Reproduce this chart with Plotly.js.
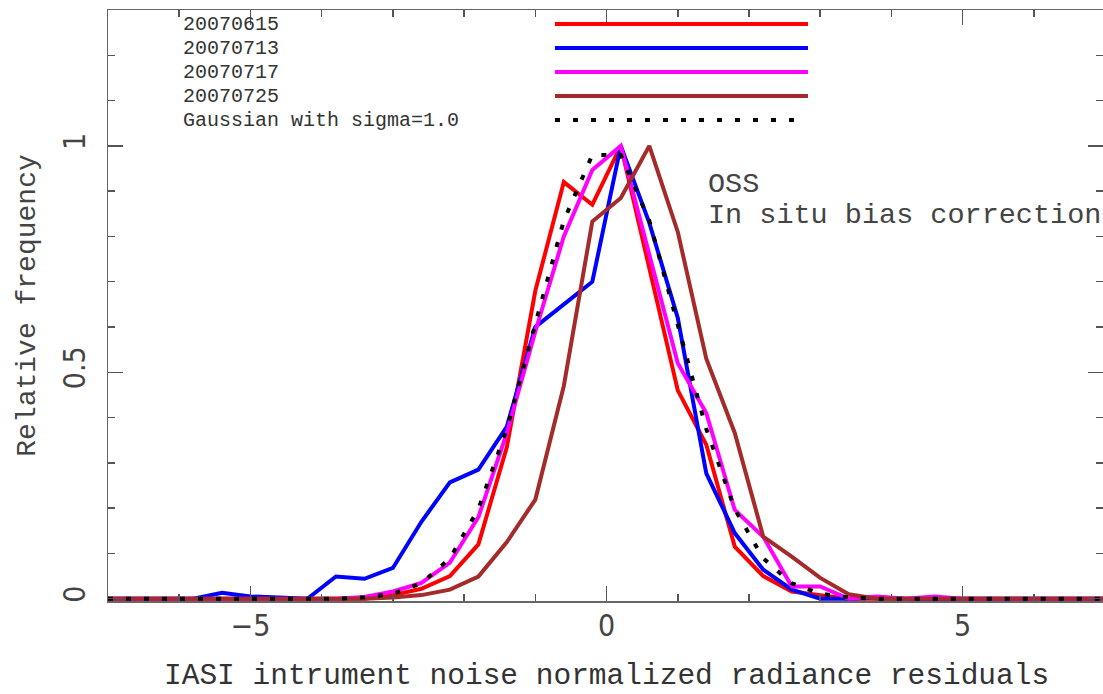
<!DOCTYPE html>
<html>
<head>
<meta charset="utf-8">
<script src="https://cdn.plot.ly/plotly-3.0.1.min.js"></script>
<style>html,body{margin:0;padding:0;background:#fff;}#chart{width:1103px;height:694px;}</style>
</head>
<body>
<div id="chart"></div>
<script>
// Bin centres (normalized residuals)
const xBins = [-7.0,-6.6,-6.2,-5.8,-5.4,-5.0,-4.6,-4.2,-3.8,-3.4,-3.0,-2.6,-2.2,-1.8,-1.4,-1.0,-0.6,-0.2,
               0.2,0.6,1.0,1.4,1.8,2.2,2.6,3.0,3.4,3.8,4.2,4.6,5.0,5.4,5.8,6.2,6.6,7.0];

const seriesNames = ["20070615","20070713","20070717","20070725","Gaussian with sigma=1.0"];

const y20070615 = [0,0,0,0,0,0,0,0,0,0,0.008,0.022,0.05,0.12,0.335,0.68,0.92,0.87,
                   1.0,0.73,0.46,0.34,0.115,0.05,0.016,0.008,0,0,0,0,0,0,0,0,0,0];
const y20070713 = [0,0,0,0,0.013,0.005,0.003,0,0.049,0.044,0.068,0.17,0.257,0.285,0.38,0.6,0.65,0.70,
                   1.0,0.83,0.62,0.277,0.145,0.064,0.02,0,0,0.003,0,0,0,0,0,0,0,0];
const y20070717 = [0,0,0,0,0,0,0,0,0,0.004,0.016,0.035,0.08,0.18,0.366,0.59,0.80,0.947,
                   1.0,0.76,0.52,0.41,0.196,0.137,0.027,0.027,0,0.005,0,0.005,0,0,0,0,0,0];
const y20070725 = [0,0,0,0,0,0,0,0,0,0,0.003,0.008,0.02,0.049,0.125,0.219,0.47,0.833,
                   0.885,1.0,0.81,0.53,0.366,0.137,0.093,0.046,0.01,0,0,0,0,0,0,0,0,0];
const yGauss    = [0,0,0,0,0,0,0,0,0,0.003,0.011,0.034,0.089,0.198,0.375,0.607,0.835,0.98,
                   0.98,0.835,0.607,0.375,0.198,0.089,0.034,0.011,0.003,0,0,0,0,0,0,0,0,0];

const seriesColors = ["#ff0000","#0000ff","#ff00ff","#a52a2a","#000000"];
const seriesY = [y20070615,y20070713,y20070717,y20070725,yGauss];

const annText1 = "OSS";
const annText2 = "In situ bias correction";
const xTitle = "IASI intrument noise normalized radiance residuals";
const yTitle = "Relative frequency";

const mono = "Liberation Mono, Courier New, monospace";
const narrow = "Liberation Sans Narrow, DejaVu Sans Condensed, Liberation Sans, sans-serif";

const traces = seriesY.map((ys,i)=>({
  x: xBins, y: ys, type: "scatter", mode: "lines", name: seriesNames[i],
  line: {color: seriesColors[i], width: 4, dash: i===4 ? "5px,13px" : "solid"},
  showlegend: false, hoverinfo: "skip"
}));

// plot-area geometry (pixels) used to place the hand-drawn legend and titles
const H = 694, W = 1103;
const plotTop = 10, plotBottom = 601, plotLeft = 108, plotWidth = 995;
const ph = plotBottom - plotTop;
const legendRowsY = [24,48,72,96,120];
const annotations = [];
const shapes = [];
seriesNames.forEach((n,i)=>{
  const yp = (plotBottom - legendRowsY[i])/ph;
  annotations.push({xref:"paper",yref:"paper",x:(181-plotLeft)/plotWidth,y:yp,xanchor:"left",yanchor:"middle",
    text:n,showarrow:false,font:{family:mono,size:20,color:"#333"}});
  shapes.push({type:"line",xref:"paper",yref:"paper",
    x0:(555-plotLeft)/plotWidth, x1:((i===4?802:808)-plotLeft)/plotWidth,
    y0:yp,y1:yp,
    line:{color:seriesColors[i],width:4,dash:i===4?"5px,13px":"solid"}});
});
annotations.push({xref:"paper",yref:"paper",x:(706-plotLeft)/plotWidth,y:(plotBottom-184)/ph,xanchor:"left",yanchor:"middle",
  text:annText1,showarrow:false,font:{family:mono,size:28.5,color:"#444"}});
annotations.push({xref:"paper",yref:"paper",x:(706-plotLeft)/plotWidth,y:(plotBottom-215)/ph,xanchor:"left",yanchor:"middle",
  text:annText2,showarrow:false,font:{family:mono,size:28.5,color:"#444"}});
// x-axis title placed as a centred annotation below the tick labels
annotations.push({xref:"paper",yref:"paper",x:(606-plotLeft)/plotWidth,y:(plotBottom-676)/ph,xanchor:"center",yanchor:"middle",
  text:xTitle,showarrow:false,font:{family:mono,size:29.5,color:"#333"}});

const layout = {
  width: W, height: H,
  margin: {l:108, r:0, t:10, b:93},
  paper_bgcolor:"#fff", plot_bgcolor:"#fff",
  showlegend:false,
  xaxis: {
    range:[-7,6.97], dtick:5, tick0:0, ticks:"inside", ticklen:15, tickwidth:1.5, tickcolor:"#555",
    minor:{dtick:1, tick0:0, ticks:"inside", ticklen:7, tickwidth:1.5, tickcolor:"#555"},
    showline:true, linecolor:"#666", linewidth:1.5, mirror:"ticks", showgrid:false, zeroline:false,
    tickfont:{family:narrow,size:30,color:"#444"}, ticklabelstandoff:-3
  },
  yaxis: {
    range:[-0.005,1.3], dtick:0.5, tick0:0, ticks:"inside", ticklen:15, tickwidth:1.5, tickcolor:"#555",
    minor:{dtick:0.1, tick0:0, ticks:"inside", ticklen:7, tickwidth:1.5, tickcolor:"#555"},
    showline:true, linecolor:"#666", linewidth:1.5, mirror:"ticks", showgrid:false, zeroline:false,
    tickangle:-90, tickfont:{family:narrow,size:30,color:"#444"}, ticklabelstandoff:10,
    title:{text:yTitle, font:{family:mono,size:28,color:"#444"}, standoff:12}
  },
  annotations: annotations,
  shapes: shapes
};

Plotly.newPlot("chart", traces, layout, {staticPlot:true, displayModeBar:false});
</script>
</body>
</html>
